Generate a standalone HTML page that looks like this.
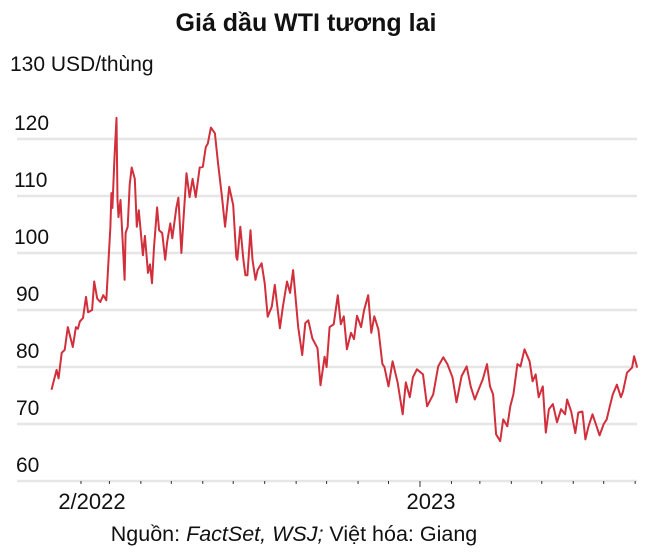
<!DOCTYPE html>
<html><head><meta charset="utf-8"><style>
body{margin:0;background:#fff;width:654px;height:558px;overflow:hidden;font-family:"Liberation Sans",sans-serif}
svg{display:block}
</style></head><body>
<svg width="654" height="558" xmlns="http://www.w3.org/2000/svg">
<text x="306" y="31" text-anchor="middle" font-size="25" font-weight="bold" fill="#111">Giá dầu WTI tương lai</text>
<text x="10" y="71" font-size="21" fill="#111">130 USD/thùng</text>
<g id="grid"></g><g id="xaxis"></g><g id="series"></g>
<text x="294" y="541" text-anchor="middle" font-size="21.5" fill="#111">Nguồn: <tspan font-style="italic">FactSet, WSJ;</tspan> Việt hóa: Giang</text>
</svg>
<script>
const days=[2,7,9,12,15,18,23,26,28,30,33,36,38,42,44,47,50,53,56,60,61,62,64,66,67,68,70,72,74,75,77,79,81,84,86,88,92,94,97,99,101,103,106,108,111,114,116,119,121,125,127,130,132,135,138,141,144,148,151,154,156,159,163,166,170,173,177,181,184,185,188,191,193,195,198,200,203,205,209,212,215,219,222,227,230,234,237,240,245,249,252,255,259,264,267,271,273,276,280,284,287,290,293,297,300,303,307,310,314,317,320,324,328,330,334,338,343,348,351,355,358,362,368,372,378,383,388,392,397,401,406,411,415,419,423,427,431,434,437,440,444,447,451,454,457,461,464,468,473,476,479,482,486,489,492,496,500,504,508,510,514,518,521,525,528,531,535,539,542,546,549,552,555,559,563,565,569,574,576,579];
const prices=[76,79.5,78,82.5,83,87,83.5,87,86.7,88,88.6,92.3,89.6,90,95,92,91.4,92.6,91.7,104.6,110.5,107.9,116.8,123.7,109.3,106.3,109.3,102.3,95.3,103.5,104.6,112,115,113,104.6,107.5,99.6,103,96.5,98,94.7,101,108,104,103.5,98.8,102,105.2,102.6,108,109.7,100,106,114,109.8,113,109.8,115,115.1,118.6,119.2,122,121,115.8,109.8,104.6,111.6,108.4,99.3,98.8,104.6,98.8,96.1,96.1,104,98.8,95.3,97,98.2,94.7,88.8,90.6,94.4,86.8,90.6,95,93,97,87,82.1,87.7,88.2,85,83.3,76.8,81.8,80,87,87.5,92.6,87.5,88.9,83.1,86,84.9,89,87,90,92.6,86,88.9,86.6,80.5,80,76.6,81,77.3,71.7,77.3,74.7,78.2,79.6,78.7,73.1,75.2,80.1,81.7,80.5,78.2,73.8,78.4,80.1,76.6,74.3,76.1,77.9,80.5,76.6,75.2,68.2,67,70.8,69.6,73.1,75.2,80.5,80.1,83.1,81,77.5,78.7,74.7,76.6,68.5,72.6,73.5,70.3,72.6,71.7,74.3,72.2,68.4,72,72.2,67.3,69.6,71.7,69.6,68,70,70.8,73.1,75.2,76.9,74.7,75.7,79,79.9,81.9,79.9,82.7];
const yTicks=[60,70,80,90,100,110,120];
const monthStarts=[31,59,90,120,151,181,212,243,273,304,334,365,396,424,455,485,516,546,577];
const xLabels=[{d:31,t:"2/2022"},{d:365,t:"2023"}];
const NS="http://www.w3.org/2000/svg";
const X=d=>49.5+d*1.015;
const Y=v=>481-(v-60)*5.7;
function mk(tag,attrs,parent){const e=document.createElementNS(NS,tag);for(const k in attrs)e.setAttribute(k,attrs[k]);parent.appendChild(e);return e;}
const grid=document.getElementById('grid');
yTicks.forEach(v=>{
 const l=mk('line',{x1:17,x2:637,y1:Y(v),y2:Y(v),stroke:'#e6e6e6','stroke-width':2.5},grid);
 
 
 const t=mk('text',{x:v>=100?14:16,y:Y(v)-9,'font-size':21,fill:'#111'},grid);
 t.textContent=v;
 
 
});
const xa=document.getElementById('xaxis');
monthStarts.forEach(d=>{
 const major=d===365;
 const tk=mk('line',{x1:X(d),x2:X(d),y1:481,y2:major?487:484,stroke:'#333','stroke-width':1},xa);
 
 
});
xLabels.forEach(o=>{
 const t=mk('text',{x:X(o.d)+11,y:509,'text-anchor':'middle','font-size':22,fill:'#111'},xa);
 t.textContent=o.t;
 
 
});
const pts=days.map((d,i)=>X(d).toFixed(1)+','+Y(prices[i]).toFixed(1)).join(' ');
const pl=mk('polyline',{points:pts,fill:'none',stroke:'#d12f3b','stroke-width':2,'stroke-linejoin':'round'},document.getElementById('series'));


</script>
</body></html>
